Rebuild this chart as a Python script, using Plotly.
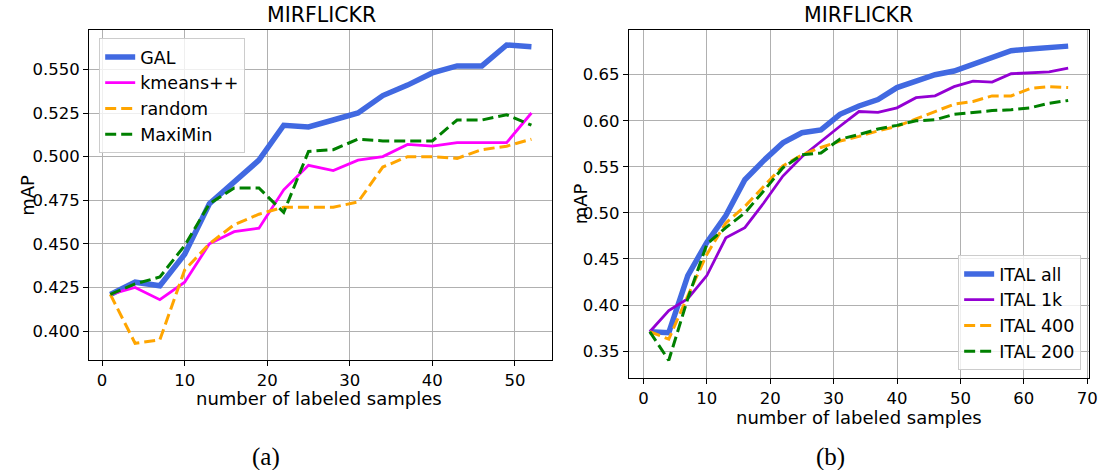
import plotly.graph_objects as go

# ---- data: panel (a) ----
x_a = [1, 4, 7, 10, 13, 16, 19, 22, 25, 28, 31, 34, 37, 40, 43, 46, 49, 52]
gal = [0.421, 0.428, 0.426, 0.444, 0.473, 0.485, 0.498, 0.518, 0.517, 0.521, 0.525, 0.535, 0.541, 0.548, 0.552, 0.552, 0.564, 0.563]
kmeans = [0.421, 0.425, 0.418, 0.428, 0.450, 0.457, 0.459, 0.481, 0.495, 0.492, 0.498, 0.500, 0.507, 0.506, 0.508, 0.508, 0.508, 0.525]
random_ = [0.421, 0.393, 0.395, 0.435, 0.450, 0.461, 0.467, 0.471, 0.471, 0.471, 0.474, 0.494, 0.500, 0.500, 0.499, 0.504, 0.506, 0.510]
maximin = [0.421, 0.427, 0.431, 0.449, 0.473, 0.482, 0.482, 0.468, 0.503, 0.504, 0.510, 0.509, 0.509, 0.509, 0.521, 0.521, 0.524, 0.518]

# ---- data: panel (b) ----
x_b = [1, 4, 7, 10, 13, 16, 19, 22, 25, 28, 31, 34, 37, 40, 43, 46, 49, 52, 55, 58, 61, 64, 67]
ital_all = [0.371, 0.370, 0.432, 0.468, 0.497, 0.536, 0.557, 0.576, 0.587, 0.590, 0.607, 0.616, 0.623, 0.636, 0.643, 0.650, 0.654, 0.661, 0.668, 0.676, 0.678, 0.680, 0.681]
ital_1k = [0.371, 0.394, 0.407, 0.432, 0.473, 0.484, 0.511, 0.540, 0.561, 0.578, 0.594, 0.610, 0.609, 0.614, 0.625, 0.627, 0.637, 0.643, 0.642, 0.651, 0.652, 0.653, 0.657]
ital_400 = [0.371, 0.363, 0.410, 0.455, 0.489, 0.507, 0.529, 0.551, 0.563, 0.571, 0.578, 0.583, 0.589, 0.594, 0.602, 0.610, 0.618, 0.621, 0.627, 0.627, 0.635, 0.637, 0.636]
ital_200 = [0.371, 0.340, 0.407, 0.466, 0.484, 0.500, 0.524, 0.549, 0.563, 0.565, 0.580, 0.585, 0.591, 0.595, 0.600, 0.601, 0.607, 0.609, 0.611, 0.612, 0.614, 0.619, 0.622]

yticks_a = [0.400, 0.425, 0.450, 0.475, 0.500, 0.525, 0.550]
yticks_b = [0.35, 0.40, 0.45, 0.50, 0.55, 0.60, 0.65]
xticks_a = [0, 10, 20, 30, 40, 50]
xticks_b = [0, 10, 20, 30, 40, 50, 60, 70]

FONT = "DejaVu Sans"
DASH = "11px,5px"

fig = go.Figure()

def add(x, y, name, color, width, dash, xa, ya, legend):
    fig.add_trace(go.Scatter(
        x=x, y=y, name=name, mode="lines",
        line=dict(color=color, width=width, dash=dash),
        xaxis=xa, yaxis=ya, legend=legend))

add(x_a, gal, "GAL", "#4169E1", 5.5, "solid", "x", "y", "legend")
add(x_a, kmeans, "kmeans++", "#FF00FF", 2.8, "solid", "x", "y", "legend")
add(x_a, random_, "random", "#FFA500", 3, DASH, "x", "y", "legend")
add(x_a, maximin, "MaxiMin", "#008000", 3, DASH, "x", "y", "legend")

add(x_b, ital_all, "ITAL all", "#4169E1", 5.5, "solid", "x2", "y2", "legend2")
add(x_b, ital_1k, "ITAL 1k", "#9400D3", 2.8, "solid", "x2", "y2", "legend2")
add(x_b, ital_400, "ITAL 400", "#FFA500", 3, DASH, "x2", "y2", "legend2")
add(x_b, ital_200, "ITAL 200", "#008000", 3, DASH, "x2", "y2", "legend2")

axis_common = dict(
    showline=True, linecolor="black", linewidth=1.2, mirror=True,
    showgrid=True, gridcolor="#b0b0b0", gridwidth=1,
    ticks="outside", ticklen=5, tickcolor="black",
    tickfont=dict(family=FONT, size=16.5, color="black"),
    zeroline=False,
)

W, H = 1109, 470
def px_x(a, b):
    return [a / W, b / W]
def px_y(top, bottom):
    return [1 - bottom / H, 1 - top / H]

fig.update_layout(
    width=W, height=H,
    margin=dict(l=0, r=0, t=0, b=0),
    paper_bgcolor="white", plot_bgcolor="white",
    font=dict(family=FONT, color="black"),
    xaxis=dict(axis_common, domain=px_x(90, 557), range=[-1.55, 54.55],
               tickvals=xticks_a, anchor="y"),
    yaxis=dict(axis_common, domain=px_y(30, 360), range=[0.3834, 0.5726],
               tickvals=yticks_a, tickformat=".3f", anchor="x", ticksuffix="\u00a0"),
    xaxis2=dict(axis_common, domain=px_x(634, 1098), range=[-2.3, 70.3],
                tickvals=xticks_b, anchor="y2"),
    yaxis2=dict(axis_common, domain=px_y(30, 378), range=[0.3208, 0.6985],
                tickvals=yticks_b, tickformat=".2f", anchor="x2", ticksuffix="\u00a0"),
    legend=dict(x=100 / W, y=1 - 38 / H, xanchor="left", yanchor="top",
                bgcolor="rgba(255,255,255,0.8)", bordercolor="#cccccc", borderwidth=1,
                font=dict(family=FONT, size=17.5), tracegroupgap=0),
    legend2=dict(x=1090 / W, y=1 - 370 / H, xanchor="right", yanchor="bottom",
                 bgcolor="rgba(255,255,255,0.8)", bordercolor="#cccccc", borderwidth=1,
                 font=dict(family=FONT, size=17.5), tracegroupgap=0),
    showlegend=True,
)

def ann(text, x, y, size, family=FONT, angle=0):
    return dict(text=text, x=x / W, y=1 - y / H, xref="paper", yref="paper",
                showarrow=False, font=dict(family=family, size=size, color="black"),
                xanchor="center", yanchor="middle", textangle=angle)

annotations = [
    ann("MIRFLICKR", 324, 15, 20.5),
    ann("MIRFLICKR", 866, 15, 20.5),
    ann("number of labeled samples", 322, 398, 18),
    ann("number of labeled samples", 866, 417, 18),
    ann("mAP", 27, 195, 18, angle=-90),
    ann("mAP", 586, 204, 18, angle=-90),
    ann("(a)", 268, 457, 25, family="Liberation Serif"),
    ann("(b)", 837, 457, 25, family="Liberation Serif"),
]
fig.update_layout(annotations=annotations)

fig.write_html("out.html")
